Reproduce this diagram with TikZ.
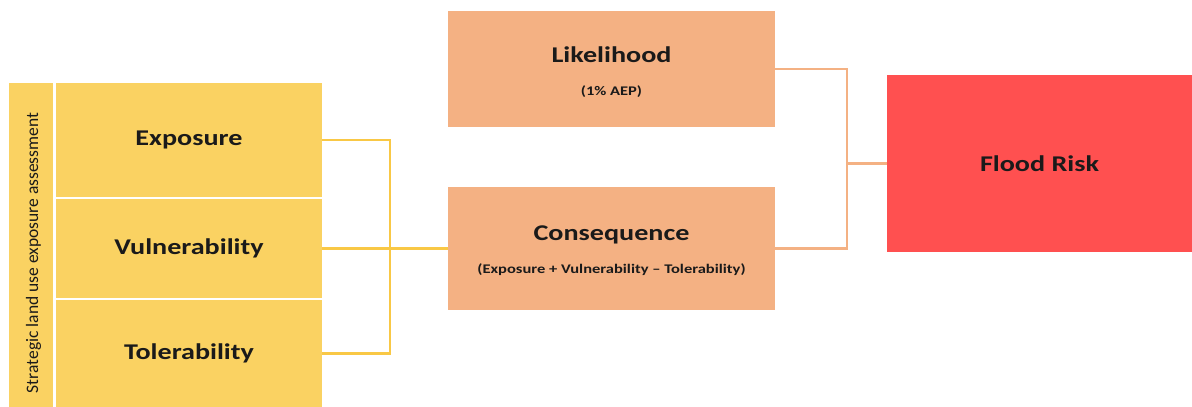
\documentclass[tikz,border=0pt]{standalone}
\usepackage{fontspec}
\setmainfont{Carlito}
\newfontfamily\labfont[FakeStretch=1.25]{Carlito}
\definecolor{ybox}{HTML}{FAD262}
\definecolor{obox}{HTML}{F4B183}
\definecolor{rbox}{HTML}{FF5050}
\definecolor{yline}{HTML}{F9C845}
\definecolor{oline}{HTML}{F4B183}
\definecolor{txt}{HTML}{1A1A1A}
\begin{document}
\begin{tikzpicture}[x=1pt,y=-1pt,
  boxbase/.style={rectangle,inner sep=0pt,outer sep=0pt,text=txt,align=center},
  ybx/.style={boxbase,fill=ybox,minimum width=266pt},
  obx/.style={boxbase,fill=obox,minimum width=327pt},
  mainlab/.style={font=\labfont\bfseries\fontsize{22.5}{26}\selectfont},
  sublab/.style={font=\labfont\bfseries\fontsize{13.2}{15}\selectfont},
  ycon/.style={draw=yline,line width=2.2pt},
  ocon/.style={draw=oline,line width=2.2pt}]
\useasboundingbox (0,0) rectangle (1192,407);
\fill[white] (0,0) rectangle (1192,407);
% left strip
\node[boxbase,fill=ybox,minimum width=44pt,minimum height=324pt] (strip) at (31,245) {};
\node[rotate=90,text=txt,font=\fontsize{17.5}{19}\selectfont] (striplab) at (33.5,253) {Strategic land use exposure assessment};
% yellow boxes
\node[ybx,minimum height=114pt] (expo) at (189,140) {};
\node[mainlab,text=txt] (expol) at (189,140) {Exposure};
\node[ybx,minimum height=99pt] (vul) at (189,248.5) {};
\node[mainlab,text=txt] (vull) at (189,248.5) {Vulnerability};
\node[ybx,minimum height=107pt] (tol) at (189,353.5) {};
\node[mainlab,text=txt] (toll) at (189,353.5) {Tolerability};
% orange boxes
\node[obx,minimum height=116pt] (like) at (611.5,69) {};
\node[mainlab,text=txt] (likel) at (611.5,55) {Likelihood};
\node[sublab,text=txt] (likes) at (611.5,92) {(1\% AEP)};
\node[obx,minimum height=123pt] (cons) at (611.5,248.5) {};
\node[mainlab,text=txt] (consl) at (611.5,235) {Consequence};
\node[sublab,text=txt] (conss) at (611.5,270) {(Exposure + Vulnerability – Tolerability)};
% red box
\node[boxbase,fill=rbox,minimum width=305pt,minimum height=177pt] (flood) at (1039.5,163.5) {};
\node[mainlab,text=txt] (floodl) at (1039.5,163.5) {Flood Risk};
% connectors
\draw[ycon] (expo.east) -- ++(68,0) coordinate (yj) |- (tol.east);
\draw[ycon] (vul.east) -- (cons.west |- vul.east);
\draw[ocon] (like.east) -- ++(72,0) coordinate (oj) |- (cons.east);
\coordinate (ojm) at (oj |- flood.west);
\draw[ocon] (ojm) -- (flood.west);
\end{tikzpicture}
\end{document}
